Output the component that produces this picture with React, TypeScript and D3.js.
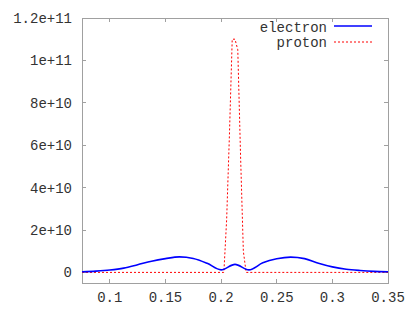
import React from 'react';
import * as d3 from 'd3';

// electron density (blue solid line)
const electronX = [0.075, 0.0875, 0.1, 0.1125, 0.125, 0.1375, 0.15, 0.1625, 0.175, 0.1875, 0.2, 0.2125, 0.225, 0.2375, 0.25, 0.2625, 0.275, 0.2875, 0.3, 0.3125, 0.325, 0.3375, 0.35];
const electronY = [0.3e9, 0.6e9, 1.1e9, 2.0e9, 3.6e9, 5.3e9, 6.5e9, 7.3e9, 6.6e9, 4.3e9, 1.2e9, 3.8e9, 1.2e9, 4.5e9, 6.4e9, 7.2e9, 6.5e9, 4.3e9, 2.6e9, 1.5e9, 0.9e9, 0.5e9, 0.3e9];

// proton density (red dotted line)
const protonX = [0.075, 0.2, 0.2025, 0.205, 0.2075, 0.21, 0.2125, 0.215, 0.2175, 0.22, 0.2225, 0.35];
const protonY = [0, 0, 0, 2.5e10, 6.5e10, 1.1e11, 1.1e11, 1.05e11, 5.5e10, 1e10, 0, 0];

const xTicks = [0.1, 0.15, 0.2, 0.25, 0.3, 0.35];
const yTicks = [0, 2e10, 4e10, 6e10, 8e10, 1e11, 1.2e11];
const yTickLabels = ['0', '2e+10', '4e+10', '6e+10', '8e+10', '1e+11', '1.2e+11'];
const seriesNames = ['electron', 'proton'];

const width = 415;
const height = 312;
const margin = { top: 18, right: 27, bottom: 29, left: 82 };
const font = '"Liberation Mono", "DejaVu Sans Mono", monospace';
const borderColor = '#a0a0a0';
const textColor = '#333';

export default function App() {
  const x = d3.scaleLinear().domain([0.075, 0.35]).range([margin.left, width - margin.right]);
  const y = d3.scaleLinear().domain([-5e9, 1.2e11]).range([height - margin.bottom, margin.top]);

  // build point lists from the arrays
  const electron = electronX.map((v, i) => [v, electronY[i]] as [number, number]);
  const proton = protonX.map((v, i) => [v, protonY[i]] as [number, number]);
  const line = d3.line<[number, number]>().x((d) => x(d[0])).y((d) => y(d[1]));
  const smooth = d3.line<[number, number]>().x((d) => x(d[0])).y((d) => y(d[1])).curve(d3.curveMonotoneX);

  const x0 = margin.left;
  const x1 = width - margin.right;
  const y0 = height - margin.bottom;
  const y1 = margin.top;
  const tick = 4;

  return (
    <svg width={width} height={height} style={{ position: 'absolute', left: 0, top: 0, background: '#fff' }}>
      {/* border box */}
      <rect x={x0} y={y1} width={x1 - x0} height={y0 - y1} fill="none" stroke={borderColor} strokeWidth={1} shapeRendering="crispEdges" />

      {/* x ticks, mirrored on top */}
      {xTicks.map((t) => (
        <g key={`xt-${t}`}>
          <line x1={x(t)} x2={x(t)} y1={y0} y2={y0 - tick} stroke={borderColor} shapeRendering="crispEdges" />
          <line x1={x(t)} x2={x(t)} y1={y1} y2={y1 + tick} stroke={borderColor} shapeRendering="crispEdges" />
          <text x={x(t)} y={y0 + 19} textAnchor="middle" fontFamily={font} fontSize={14} fill={textColor}>
            {String(t)}
          </text>
        </g>
      ))}

      {/* y ticks, mirrored on right */}
      {yTicks.map((t, i) => (
        <g key={`yt-${t}`}>
          <line x1={x0} x2={x0 + tick} y1={y(t)} y2={y(t)} stroke={borderColor} shapeRendering="crispEdges" />
          <line x1={x1} x2={x1 - tick} y1={y(t)} y2={y(t)} stroke={borderColor} shapeRendering="crispEdges" />
          <text x={72} y={y(t)} dy="0.35em" textAnchor="end" fontFamily={font} fontSize={14} fill={textColor}>
            {yTickLabels[i]}
          </text>
        </g>
      ))}

      {/* series */}
      <path d={line(proton) ?? ''} fill="none" stroke="#ff0000" strokeWidth={1} strokeDasharray="2,2" />
      <path d={smooth(electron) ?? ''} fill="none" stroke="#0000ff" strokeWidth={1.6} strokeLinejoin="round" />

      {/* legend */}
      <g fontFamily={font} fontSize={14} fill={textColor}>
        <text x={327} y={27} dy="0.35em" textAnchor="end">{seriesNames[0]}</text>
        <line x1={334} x2={372} y1={26} y2={26} stroke="#0000ff" strokeWidth={1.6} />
        <text x={327} y={42} dy="0.35em" textAnchor="end">{seriesNames[1]}</text>
        <line x1={334} x2={372} y1={42} y2={42} stroke="#ff0000" strokeWidth={1} strokeDasharray="2,2" />
      </g>
    </svg>
  );
}
